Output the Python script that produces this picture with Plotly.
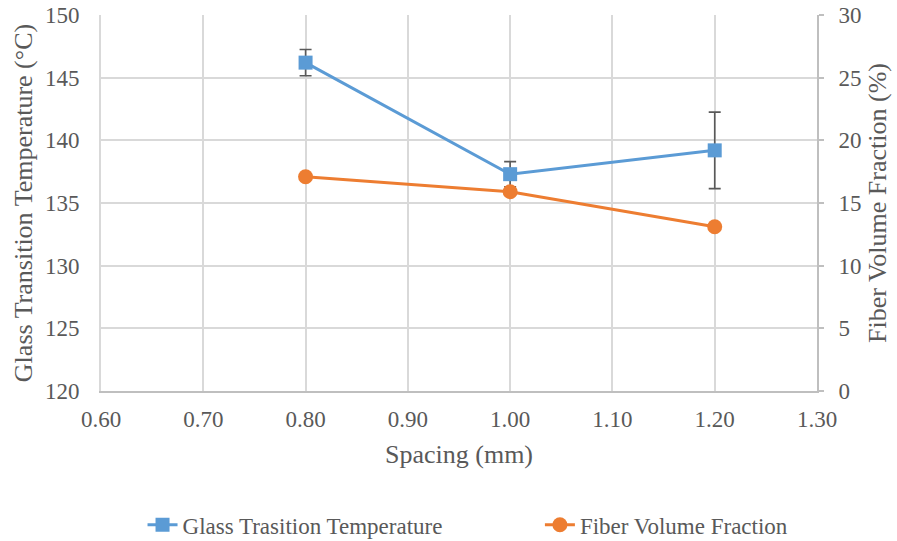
import plotly.graph_objects as go

# Measured data
spacing = [0.80, 1.00, 1.20]
tg = [146.2, 137.3, 139.2]
tg_err = [1.05, 1.0, 3.05]
vf = [17.1, 15.9, 13.1]

x_ticks = [0.6, 0.7, 0.8, 0.9, 1.0, 1.1, 1.2, 1.3]
y_left_ticks = [120, 125, 130, 135, 140, 145, 150]
y_right_ticks = [0, 5, 10, 15, 20, 25, 30]

BLUE = "#5B9BD5"
ORANGE = "#ED7D31"
TEXT = "#595959"
GRID = "#D9D9D9"
AXIS = "#BFBFBF"
FONT = "'Liberation Serif', 'DejaVu Serif', serif"


def f(size):
    return dict(family=FONT, size=size, color=TEXT)


fig = go.Figure()

fig.add_trace(go.Scatter(
    x=spacing, y=tg, name="Glass Trasition Temperature",
    mode="lines+markers",
    line=dict(color=BLUE, width=3),
    marker=dict(symbol="square", size=14, color=BLUE),
    error_y=dict(type="data", array=tg_err, visible=True,
                 color="#595959", thickness=1.6, width=6),
    yaxis="y", legend="legend",
))

fig.add_trace(go.Scatter(
    x=spacing, y=vf, name="Fiber Volume Fraction",
    mode="lines+markers",
    line=dict(color=ORANGE, width=3),
    marker=dict(symbol="circle", size=15, color=ORANGE),
    yaxis="y2", legend="legend2",
))

legend_common = dict(
    orientation="h", y=-0.356, yanchor="middle", xanchor="left",
    font=f(23), bgcolor="rgba(0,0,0,0)",
)

fig.update_layout(
    width=897, height=541,
    margin=dict(l=101, r=80, t=15, b=150, autoexpand=False),
    paper_bgcolor="white", plot_bgcolor="white",
    font=f(22),
    xaxis=dict(
        range=[0.6, 1.3], tickvals=x_ticks,
        ticktext=[f"{v:.2f}" for v in x_ticks],
        tickfont=f(23), automargin=False,
        showgrid=True, gridcolor=GRID, gridwidth=2,
        showline=True, linecolor=AXIS, linewidth=2,
        zeroline=False, ticks="", ticklabelstandoff=6,
        title=dict(text="Spacing (mm)", font=f(26), standoff=14),
    ),
    yaxis=dict(
        range=[120, 150], tickvals=y_left_ticks,
        tickfont=f(23), automargin=False,
        showgrid=True, gridcolor=GRID, gridwidth=2,
        showline=True, linecolor=GRID, linewidth=2,
        zeroline=False, ticks="", ticklabelstandoff=15,
        title=dict(text="Glass Transition Temperature (°C)", font=f(26), standoff=5),
    ),
    yaxis2=dict(
        range=[0, 30], tickvals=y_right_ticks,
        tickfont=f(23), automargin=False,
        overlaying="y", side="right",
        showgrid=False, showline=True, linecolor=AXIS, linewidth=2,
        zeroline=False, ticks="outside", ticklen=5, tickcolor=AXIS, tickwidth=2,
        ticklabelstandoff=10,
        title=dict(text="Fiber Volume Fraction (%)", font=f(26), standoff=7),
    ),
    legend=dict(x=0.058, **legend_common),
    legend2=dict(x=0.613, **legend_common),
    showlegend=True,
)

fig.write_html("out.html")
